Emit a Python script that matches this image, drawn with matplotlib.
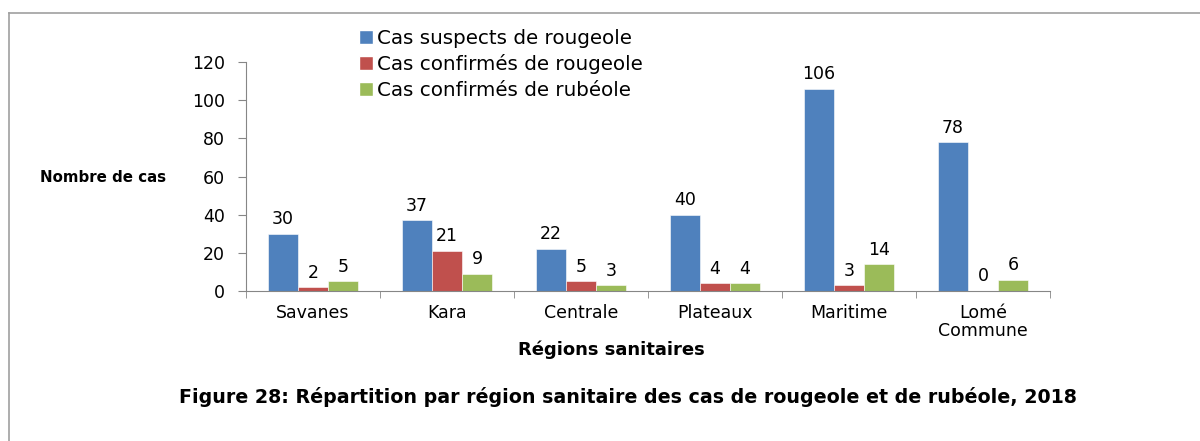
import matplotlib
matplotlib.use("Agg")
import matplotlib.pyplot as plt
from matplotlib.lines import Line2D
import numpy as np

regions = ["Savanes", "Kara", "Centrale", "Plateaux", "Maritime", "Lomé\nCommune"]
suspects = [30, 37, 22, 40, 106, 78]
conf_rougeole = [2, 21, 5, 4, 3, 0]
conf_rubeole = [5, 9, 3, 4, 14, 6]
series_names = ["Cas suspects de rougeole", "Cas confirmés de rougeole", "Cas confirmés de rubéole"]
colors = ["#4F81BD", "#C0504D", "#9BBB59"]
yticks = [0, 20, 40, 60, 80, 100, 120]

plt.rcParams['font.family'] = ['DejaVu Sans']

fig = plt.figure(figsize=(12, 4.41), dpi=100)
ax = fig.add_axes([246/1200, 1-291/441, (1050-246)/1200, (291-62)/441])

x = np.arange(len(regions))
w = 0.224
data = [suspects, conf_rougeole, conf_rubeole]
for i, (vals, c, name) in enumerate(zip(data, colors, series_names)):
    ax.bar(x + (i-1)*w, vals, w, color=c, label=name, edgecolor='white', linewidth=0.4)
    for xi, v in zip(x + (i-1)*w, vals):
        ax.annotate(str(v), (xi, v), xytext=(0, 4), textcoords='offset points',
                    ha='center', va='bottom', fontsize=12.5, color='black')

ax.set_xlim(-0.5, len(regions)-0.5)
ax.set_ylim(0, 120)
ax.set_yticks(yticks)
ax.set_yticklabels([str(t) for t in yticks], fontsize=12.5)
ax.set_xticks(x)
ax.set_xticklabels(regions, fontsize=12.5, linespacing=1.05)
ax.set_xticks(np.arange(len(regions)+1) - 0.5, minor=True)
ax.tick_params(axis='x', which='major', length=0, pad=9)
ax.tick_params(axis='x', which='minor', length=5, color='#868686', direction='out')
ax.tick_params(axis='y', length=6, color='#868686', direction='out', pad=9)
for s in ['top', 'right']:
    ax.spines[s].set_visible(False)
for s in ['left', 'bottom']:
    ax.spines[s].set_color('#868686')

fig.text(40/1200, 1-178/441, "Nombre de cas", fontsize=10.8, fontweight='bold', va='center', ha='left')
fig.text(611/1200, 1-350/441, "Régions sanitaires", fontsize=13, fontweight='bold', va='center', ha='center')
fig.text(628/1200, 1-397/441, "Figure 28: Répartition par région sanitaire des cas de rougeole et de rubéole, 2018",
         fontsize=13.7, fontweight='bold', va='center', ha='center')

leg_handles = [Line2D([0], [0], marker='s', color='w', markerfacecolor=c, markersize=10, linestyle='None')
               for c in colors]
fig.legend(leg_handles, series_names, loc='upper left', bbox_to_anchor=(356/1200, 1-29/441),
           frameon=False, fontsize=14.3, handletextpad=0.05, labelspacing=0.32, borderaxespad=0,
           handlelength=1.0, borderpad=0)

# partial outer frame
fig.add_artist(Line2D([9/1200, 1], [1-13/441, 1-13/441], transform=fig.transFigure, color='#A0A0A0', lw=1.2))
fig.add_artist(Line2D([9/1200, 9/1200], [0, 1-13/441], transform=fig.transFigure, color='#A0A0A0', lw=1.2))

fig.savefig("out.png", dpi=100)
